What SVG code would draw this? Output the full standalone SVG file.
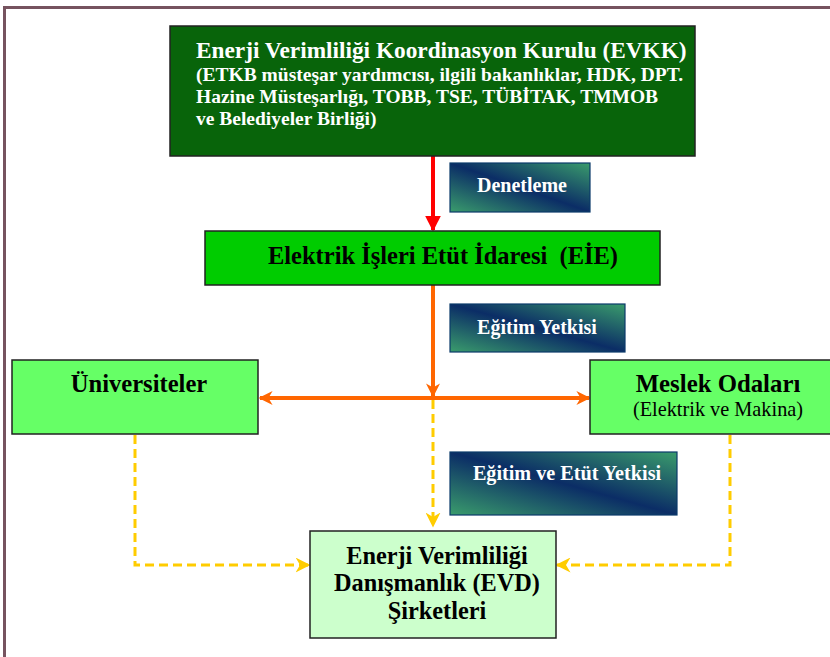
<svg xmlns="http://www.w3.org/2000/svg" width="830" height="657" viewBox="0 0 830 657">
<defs>
<linearGradient id="lbl" x1="1" y1="0" x2="0" y2="1">
<stop offset="0" stop-color="#3a9c6c"/>
<stop offset="0.5" stop-color="#0b2d66"/>
<stop offset="1" stop-color="#3a9c6c"/>
</linearGradient>
<marker id="ared" viewBox="0 0 10 10" refX="9" refY="5" markerWidth="4" markerHeight="4" orient="auto" markerUnits="strokeWidth"><path d="M0,0 L10,5 L0,10 Z" fill="#ff0000"/></marker>
<marker id="aor" viewBox="0 0 10 10" refX="9" refY="5" markerWidth="3.5" markerHeight="3.5" orient="auto-start-reverse" markerUnits="strokeWidth"><path d="M0,0 L10,5 L0,10 L3,5 Z" fill="#ff6600"/></marker>
<marker id="aye" viewBox="0 0 10 10" refX="9" refY="5" markerWidth="5" markerHeight="5" orient="auto" markerUnits="strokeWidth"><path d="M0,0 L10,5 L0,10 L3,5 Z" fill="#ffcc00"/></marker>
</defs>
<style>
text{font-family:"Liberation Serif","Times New Roman",serif;font-weight:bold}
.box{stroke:#222;stroke-width:1.5}
.lab{fill:url(#lbl);stroke:#0b3a6a;stroke-width:1.2}
.wt{fill:#fff}
.bt{fill:#000}
.ye{stroke:#ffcc00;stroke-width:3;fill:none;stroke-dasharray:9 5}
</style>
<rect width="830" height="657" fill="#fff"/>
<path d="M4.5,657 V7.5 H830" fill="none" stroke="#76535f" stroke-width="3"/>

<g id="connectors">
<line x1="433" y1="156" x2="433" y2="230" stroke="#ff0000" stroke-width="4" marker-end="url(#ared)"/>
<line x1="433" y1="285" x2="433" y2="396" stroke="#ff6600" stroke-width="4" marker-end="url(#aor)"/>
<line x1="260" y1="398" x2="589" y2="398" stroke="#ff6600" stroke-width="4" marker-start="url(#aor)" marker-end="url(#aor)"/>
<path class="ye" d="M433,400 V526" marker-end="url(#aye)"/>
<path class="ye" d="M135,435 V565 H309" marker-end="url(#aye)"/>
<path class="ye" d="M730,435 V565 H557" marker-end="url(#aye)"/>
</g>

<g id="evkk">
<rect class="box" x="170" y="26" width="525" height="130" fill="#08640a"/>
<text class="wt" x="196" y="58" font-size="23.3">Enerji Verimliliği Koordinasyon Kurulu (EVKK)</text>
<text class="wt" x="196" y="81" font-size="19.5">(ETKB müsteşar yardımcısı, ilgili bakanlıklar, HDK, DPT.</text>
<text class="wt" x="196" y="103" font-size="19.5">Hazine Müsteşarlığı, TOBB, TSE, TÜBİTAK, TMMOB</text>
<text class="wt" x="196" y="125" font-size="19.5">ve Belediyeler Birliği)</text>
</g>

<g id="denetleme">
<rect class="lab" x="450" y="163" width="140" height="49"/>
<text class="wt" x="522" y="192" font-size="20" text-anchor="middle">Denetleme</text>
</g>

<g id="eie">
<rect class="box" x="205" y="231" width="455" height="54" fill="#00cc00"/>
<text class="bt" x="443" y="264" font-size="24.5" text-anchor="middle" xml:space="preserve">Elektrik İşleri Etüt İdaresi  (EİE)</text>
</g>

<g id="egitim-yetkisi">
<rect class="lab" x="450" y="304" width="175" height="48"/>
<text class="wt" x="537" y="334" font-size="20" text-anchor="middle">Eğitim Yetkisi</text>
</g>

<g id="universiteler">
<rect class="box" x="12" y="360" width="246" height="74" fill="#66ff66"/>
<text class="bt" x="139" y="392" font-size="24.6" text-anchor="middle">Üniversiteler</text>
</g>

<g id="meslek-odalari">
<rect class="box" x="590" y="360" width="242" height="74" fill="#66ff66"/>
<text class="bt" x="718" y="392" font-size="24.8" text-anchor="middle">Meslek Odaları</text>
<text class="bt" x="718" y="416" font-size="20.3" style="font-weight:normal" text-anchor="middle">(Elektrik ve Makina)</text>
</g>

<g id="egitim-etut">
<rect class="lab" x="450" y="452" width="227" height="63"/>
<text class="wt" x="567" y="480" font-size="20.2" text-anchor="middle">Eğitim ve Etüt Yetkisi</text>
</g>

<g id="evd">
<rect class="box" x="310" y="531" width="246" height="107" fill="#ccffcc"/>
<text class="bt" x="437" y="564" font-size="24.3" text-anchor="middle">Enerji Verimliliği</text>
<text class="bt" x="437" y="591" font-size="24.3" text-anchor="middle">Danışmanlık (EVD)</text>
<text class="bt" x="437" y="619" font-size="24.3" text-anchor="middle">Şirketleri</text>
</g>
</svg>
